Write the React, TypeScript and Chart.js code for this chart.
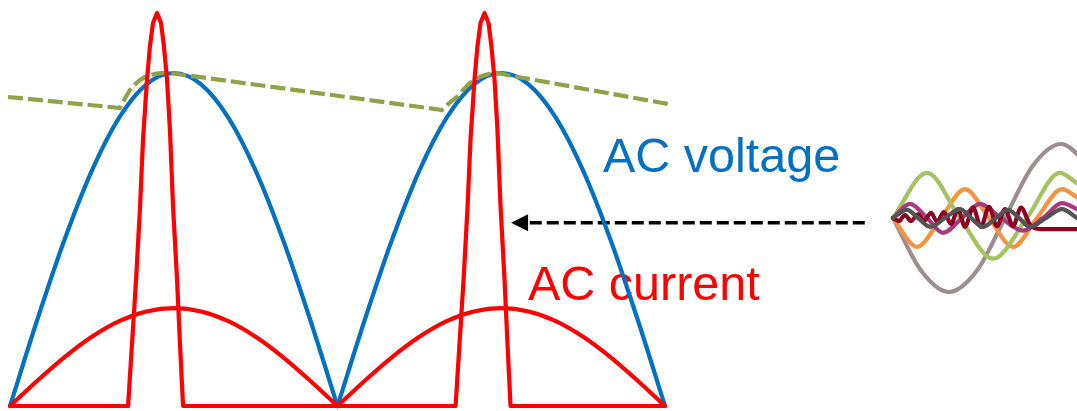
import { useEffect, useRef } from "react";
import { Chart, registerables } from "chart.js";

Chart.register(...registerables);

const W = 1077;
const H = 411;

// Rectified waveforms over one half cycle (phase in degrees, values in per-unit of peak voltage)
const halfCycleDeg = [0, 15, 30, 45, 60, 75, 90, 105, 120, 135, 150, 165, 180];
const voltagePu = [0, 0.259, 0.5, 0.707, 0.866, 0.966, 1, 0.966, 0.866, 0.707, 0.5, 0.259, 0];
const fundamentalCurrentPu = [0, 0.076, 0.147, 0.208, 0.255, 0.284, 0.294, 0.284, 0.255, 0.208, 0.147, 0.076, 0];

// Conduction pulse of the diode current
const pulseDeg = [64.9, 67.1, 69.3, 71.5, 73.1, 75.3, 76.9, 78.6, 80.8, 83.0, 84.6, 86.3, 87.9, 89.6, 91.8, 93.4, 95.1];
const pulseCurrentPu = [0, 0.19, 0.38, 0.6, 0.8, 0.98, 1.08, 1.15, 1.18, 1.15, 1.08, 0.98, 0.83, 0.6, 0.38, 0.19, 0];

// Smoothed DC (capacitor) voltage with ripple
const rippleDeg = [-1.1, 60.5, 63.3, 66.0, 68.7, 71.5, 74.2, 76.9, 80.5, 84.1, 88.0, 91.8,
  237.4, 241.5, 245.7, 249.3, 252.8, 256.1, 259.4, 264.9, 269.0, 273.2, 361.7];
const ripplePu = [0.928, 0.895, 0.925, 0.949, 0.966, 0.979, 0.988, 0.994, 0.998, 1.0, 1.0, 0.997,
  0.889, 0.91, 0.928, 0.951, 0.97, 0.982, 0.991, 1.0, 0.999, 0.994, 0.907];

// Harmonic components: [phase of fundamental in degrees, amplitude]
const harmonicFundamental = [[0, 0], [45, -0.71], [90, -1], [135, -0.71], [180, 0], [225, 0.71], [270, 1], [315, 0.71]];
const harmonicGreen = [[0, 0], [54.6, 0.61], [107.6, 0], [160.7, -0.55], [215.3, 0], [268.4, 0.61], [295.7, 0.47]];
const harmonicOrange = [[0, 0], [38.6, -0.39], [77.1, 0], [115.7, 0.39], [154.3, 0], [192.9, -0.39], [231.4, 0], [271.6, 0.39], [295.7, 0.28]];
const harmonicMagenta = [[0, 0], [27.3, 0.19], [54.6, 0], [80.4, -0.2], [110.9, 0], [139.8, 0.19], [173.6, 0], [208.9, -0.17], [241.1, 0], [271.6, 0.2], [295.7, 0.12]];
const harmonicMaroon = [[0, 0], [9.6, -0.04], [19.3, 0.04], [28.9, -0.04], [40.2, 0.05], [49.8, -0.04], [61.1, 0.07], [70.7, -0.05],
  [82.0, 0.08], [93.2, -0.08], [104.5, 0.12], [115.7, -0.12], [128.6, 0.14], [141.4, -0.12], [154.3, 0.15], [167.1, -0.11],
  [180.0, 0.12], [192.9, -0.11], [205.7, 0.14], [220.2, -0.09], [236.2, -0.15], [295.7, -0.15]];
const harmonicDarkGray = [[0, 0], [22.5, 0.11], [40.2, 0], [59.5, -0.12], [83.6, 0], [107.7, 0.12], [125.3, 0], [144.6, -0.12],
  [165.5, 0], [184.8, 0.11], [202.5, 0], [220.2, -0.12], [245.9, 0], [271.6, 0.12], [295.7, 0]];

// Layout of the two coordinate systems on the canvas
const PLOT = { originPx: 10, pxPerDeg: 655 / 360, basePx: 406, pxPerPu: 333 };
const INSET = { leftPx: 893, pxPerDeg: 224 / 360, midPx: 218, pxPerUnit: 74 };

const LABELS = [
  { text: "AC voltage", x: 325.9, y: 0.703, color: "#0070C0" },
  { text: "AC current", x: 284.7, y: 0.318, color: "#FF0000" },
];
const ARROW = { fromDeg: 469.8, toDeg: 275.4, level: 0.55 };

const BLUE = "#0070C0";
const RED = "#FF0000";
const OLIVE = "#8FA24A";

type Pt = { x: number; y: number };
const zip = (xs: number[], ys: number[], dx = 0): Pt[] => xs.map((x, i) => ({ x: x + dx, y: ys[i] }));
const pairs = (p: number[][]): Pt[] => p.map(([x, y]) => ({ x, y }));

const currentTrace: Pt[] = [
  { x: 0, y: 0 },
  ...zip(pulseDeg, pulseCurrentPu),
  ...zip(pulseDeg, pulseCurrentPu, 180),
  { x: 360, y: 0 },
];

const annotations = {
  id: "annotations",
  beforeDatasetsDraw(chart: any) {
    const { ctx, scales } = chart;
    const sx = scales.x;
    const sy = scales.y;
    ctx.save();
    // labels
    ctx.font = '48.5px "Liberation Sans", Arial, sans-serif';
    ctx.textBaseline = "alphabetic";
    ctx.textAlign = "left";
    for (const l of LABELS) {
      ctx.fillStyle = l.color;
      ctx.fillText(l.text, sx.getPixelForValue(l.x), sy.getPixelForValue(l.y));
    }
    // dashed arrow
    const x0 = sx.getPixelForValue(ARROW.fromDeg);
    const x1 = sx.getPixelForValue(ARROW.toDeg);
    const y = sy.getPixelForValue(ARROW.level);
    const headLen = 17;
    const headHalf = 8.5;
    ctx.strokeStyle = "#000";
    ctx.lineWidth = 3.5;
    ctx.setLineDash([12, 5]);
    ctx.beginPath();
    ctx.moveTo(x0, y);
    ctx.lineTo(x1 + headLen - 1, y);
    ctx.stroke();
    ctx.setLineDash([]);
    ctx.fillStyle = "#000";
    ctx.beginPath();
    ctx.moveTo(x1, y);
    ctx.lineTo(x1 + headLen, y - headHalf);
    ctx.lineTo(x1 + headLen, y + headHalf);
    ctx.closePath();
    ctx.fill();
    ctx.restore();
  },
};

function line(data: Pt[], color: string, order: number, extra: any = {}) {
  return {
    data,
    borderColor: color,
    backgroundColor: color,
    borderWidth: 4.2,
    pointRadius: 0,
    pointHoverRadius: 0,
    fill: false,
    borderJoinStyle: "round",
    borderCapStyle: "round",
    order,
    ...extra,
  };
}

export default function App() {
  const ref = useRef<HTMLCanvasElement | null>(null);

  useEffect(() => {
    if (!ref.current) return;
    const smooth = { cubicInterpolationMode: "monotone" };
    const inset = { xAxisID: "xH", yAxisID: "yH", cubicInterpolationMode: "monotone", borderWidth: 4.2 };
    const chart = new Chart(ref.current, {
      type: "line",
      data: {
        datasets: [
          line(currentTrace, RED, 1, { tension: 0 }),
          line(zip(halfCycleDeg, fundamentalCurrentPu), RED, 2, smooth),
          line(zip(halfCycleDeg, fundamentalCurrentPu, 180), RED, 2, smooth),
          line(zip(rippleDeg, ripplePu), OLIVE, 4, { tension: 0, borderDash: [15, 5], borderCapStyle: "butt", borderJoinStyle: "miter" }),
          line(zip(halfCycleDeg, voltagePu), BLUE, 5, smooth),
          line(zip(halfCycleDeg, voltagePu, 180), BLUE, 5, smooth),
          line(pairs(harmonicDarkGray), "#545454", 10, inset),
          line(pairs(harmonicMaroon), "#8B0022", 11, inset),
          line(pairs(harmonicMagenta), "#A93A7E", 12, inset),
          line(pairs(harmonicGreen), "#A5C160", 13, inset),
          line(pairs(harmonicOrange), "#F7923F", 14, inset),
          line(pairs(harmonicFundamental), "#9C8D90", 15, inset),
        ] as any,
      },
      options: {
        animation: false,
        responsive: false,
        devicePixelRatio: 1,
        events: [],
        layout: { padding: 0 },
        plugins: { legend: { display: false }, tooltip: { enabled: false }, title: { display: false } },
        scales: {
          x: {
            type: "linear",
            display: false,
            min: -PLOT.originPx / PLOT.pxPerDeg,
            max: (W - PLOT.originPx) / PLOT.pxPerDeg,
          },
          y: {
            type: "linear",
            display: false,
            min: -(H - PLOT.basePx) / PLOT.pxPerPu,
            max: PLOT.basePx / PLOT.pxPerPu,
          },
          xH: {
            type: "linear",
            axis: "x",
            position: "bottom",
            display: false,
            min: -INSET.leftPx / INSET.pxPerDeg,
            max: (W - INSET.leftPx) / INSET.pxPerDeg,
          },
          yH: {
            type: "linear",
            axis: "y",
            position: "left",
            display: false,
            min: -(H - INSET.midPx) / INSET.pxPerUnit,
            max: INSET.midPx / INSET.pxPerUnit,
          },
        },
      } as any,
      plugins: [annotations],
    });
    return () => chart.destroy();
  }, []);

  return (
    <div style={{ position: "fixed", left: 0, top: 0, width: W, height: H, background: "#fff" }}>
      <canvas ref={ref} width={W} height={H} style={{ display: "block", width: W, height: H }} />
    </div>
  );
}
